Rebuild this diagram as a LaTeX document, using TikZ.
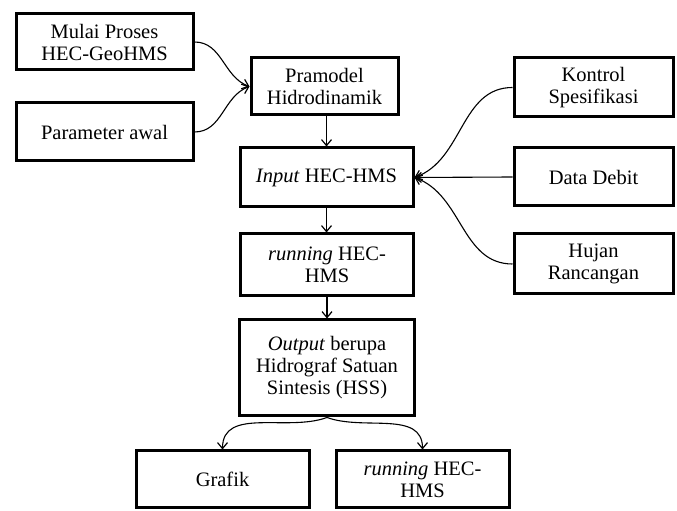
\documentclass[tikz,border=0pt]{standalone}
\usepackage{fontspec}
\newfontfamily\tnr{Liberation Serif}
\usetikzlibrary{arrows.meta}
\tikzset{
  box/.style={draw, line width=3pt, inner sep=0pt, align=center,
    font=\tnr\fontsize{20.5}{22}\selectfont},
  conn/.style={line width=1.1pt, -{Straight Barb[length=6pt,width=10pt,line width=1.2pt]}}
}
\begin{document}
\begin{tikzpicture}[x=1pt,y=1pt]
\useasboundingbox (0,0) rectangle (677,511);
% left column
\node[box, minimum width=177pt, minimum height=56pt] (mulai) at (104.5,469) {Mulai Proses\\HEC-GeoHMS};
\node[box, minimum width=177pt, minimum height=58pt] (param) at (104.5,379) {Parameter awal};
% center column
\node[box, minimum width=147pt, minimum height=57pt] (pram) at (324.5,424.5) {Pramodel\\Hidrodinamik};
\node[box, minimum width=173pt, minimum height=59pt] (input) at (326.5,333.5) {\textit{Input} HEC-HMS};
\node[box, minimum width=173pt, minimum height=62pt] (run) at (327,246) {\textit{running} HEC-\\HMS};
\node[box, minimum width=175pt, minimum height=96pt] (output) at (327,143) {\textit{Output} berupa\\Hidrograf Satuan\\Sintesis (HSS)};
% bottom row
\node[box, minimum width=173pt, minimum height=57pt] (grafik) at (222.5,31.5) {Grafik};
\node[box, minimum width=173pt, minimum height=57pt] (run2) at (422.5,31.5) {\textit{running} HEC-\\HMS};
% right column
\node[box, minimum width=159pt, minimum height=59pt] (kontrol) at (593.5,423.5) {Kontrol\\Spesifikasi};
\node[box, minimum width=159pt, minimum height=58pt] (debit) at (593.5,334) {Data Debit};
\node[box, minimum width=159pt, minimum height=60pt] (hujan) at (593.5,247) {Hujan\\Rancangan};
% connectors
\draw[conn] (mulai.east) to[out=0,in=160] (pram.west);
\draw[conn] (param.east) to[out=0,in=200] (pram.west);
\draw[conn] (input.north |- pram.south) -- (input.north);
\draw[conn] (input.south) -- (input.south |- run.north);
\draw[conn] (run.south) -- (run.south |- output.north);
\draw[conn] (kontrol.west) to[out=180,in=20] (input.east);
\draw[conn] (debit.west) -- (input.east);
\draw[conn] (hujan.west) to[out=180,in=-20] (input.east);
\draw[conn] (output.south) to[out=200,in=90] (grafik.north);
\draw[conn] (output.south) to[out=-20,in=90] (run2.north);
\end{tikzpicture}
\end{document}
